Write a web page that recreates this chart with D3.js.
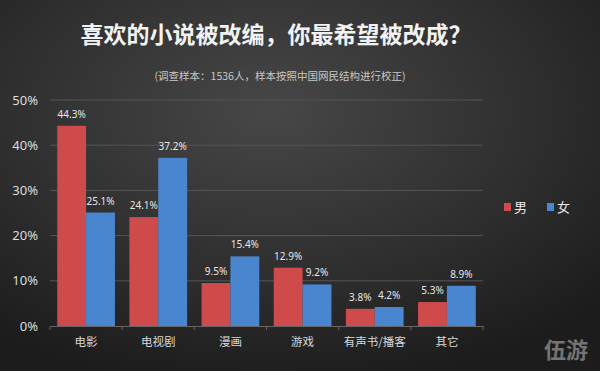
<!DOCTYPE html>
<html><head><meta charset="utf-8">
<script src="https://cdn.jsdelivr.net/npm/d3@7"></script>
<style>
html,body{margin:0;padding:0;background:#222;}
svg{display:block;}
</style></head>
<body>
<svg id="c" width="600" height="371"></svg>
<script>
const categories = ["电影","电视剧","漫画","游戏","有声书/播客","其它"];
const seriesNames = ["男","女"];
const maleValues = [44.3, 24.1, 9.5, 12.9, 3.8, 5.3];
const femaleValues = [25.1, 37.2, 15.4, 9.2, 4.2, 8.9];
const yTicks = [0, 10, 20, 30, 40, 50];
const colors = ["#cf4a4a", "#4a86cf"];
const titleText = "喜欢的小说被改编，你最希望被改成？";
const subtitleText = "(调查样本：1536人，样本按照中国网民结构进行校正)";

const svg = d3.select("#c");
const W = 600, H = 371;
const defs = svg.append("defs");
const grad = defs.append("radialGradient").attr("id","bg")
  .attr("cx","45%").attr("cy","30%").attr("r","75%");
grad.append("stop").attr("offset","0%").attr("stop-color","#474747");
grad.append("stop").attr("offset","60%").attr("stop-color","#2e2e2e");
grad.append("stop").attr("offset","100%").attr("stop-color","#1c1c1c");
svg.append("rect").attr("width",W).attr("height",H).attr("fill","url(#bg)");

svg.append("text").attr("x",276).attr("y",43).attr("text-anchor","middle")
  .attr("font-family","Noto Sans CJK SC").attr("font-weight","bold")
  .attr("font-size",23).attr("fill","#f2f2f2").text(titleText);
svg.append("text").attr("x",280).attr("y",80).attr("text-anchor","middle")
  .attr("font-family","Noto Sans CJK SC")
  .attr("font-size",10.5).attr("fill","#c8c8c8").text(subtitleText);

const x0 = d3.scaleBand().domain(categories).range([50, 483]).paddingInner(0).paddingOuter(0);
const x1 = d3.scaleBand().domain(seriesNames).range([0, x0.bandwidth()]).paddingOuter(0.25).paddingInner(0);
const y = d3.scaleLinear().domain([0, 50]).range([326, 100]);

// gridlines
svg.append("g").selectAll("line").data(yTicks.filter(d=>d>0)).join("line")
  .attr("x1",50).attr("x2",483).attr("y1",d=>y(d)).attr("y2",d=>y(d))
  .attr("stroke","#555").attr("stroke-width",1);

// y axis labels
const yAxis = d3.axisLeft(y).tickValues(yTicks).tickFormat(d=>d+"%").tickSize(0).tickPadding(12);
const yg = svg.append("g").attr("transform","translate(50,0)").call(yAxis);
yg.select(".domain").remove();
yg.selectAll("text").attr("font-family","Noto Sans").attr("font-size",13).attr("fill","#dcdcdc");

// bars
const data = categories.map((c,i)=>({cat:c, vals:[maleValues[i], femaleValues[i]]}));
const groups = svg.append("g").selectAll("g").data(data).join("g")
  .attr("transform",d=>`translate(${x0(d.cat)},0)`);
groups.selectAll("rect").data(d=>d.vals.map((v,j)=>({s:seriesNames[j], v, j}))).join("rect")
  .attr("x",d=>x1(d.s)).attr("width",x1.bandwidth())
  .attr("y",d=>y(d.v)).attr("height",d=>y(0)-y(d.v))
  .attr("fill",d=>colors[d.j]);
groups.selectAll("text.v").data(d=>d.vals.map((v,j)=>({s:seriesNames[j], v, j}))).join("text")
  .attr("class","v")
  .attr("x",d=>x1(d.s)+x1.bandwidth()/2).attr("y",d=>y(d.v)-8)
  .attr("text-anchor","middle").attr("font-family","Noto Sans").attr("font-size",10)
  .attr("fill","#e6e6e6").text(d=>d.v.toFixed(1)+"%");

// x axis
const xAxis = d3.axisBottom(x0).tickSize(0).tickPadding(12);
const xg = svg.append("g").attr("transform","translate(0,326)").call(xAxis);
xg.select(".domain").attr("stroke","#666");
xg.selectAll("text").attr("font-family","Noto Sans CJK SC").attr("font-size",11.5).attr("fill","#d8d8d8");
// boundary ticks
svg.append("g").selectAll("line").data(categories.concat(["end"])).join("line")
  .attr("x1",(d,i)=> i<categories.length ? x0(d) : 483)
  .attr("x2",(d,i)=> i<categories.length ? x0(d) : 483)
  .attr("y1",326).attr("y2",330).attr("stroke","#666");

// legend
const lg = svg.append("g");
seriesNames.forEach((s,i)=>{
  const lx = 504 + i*43;
  lg.append("rect").attr("x",lx).attr("y",203).attr("width",7).attr("height",8).attr("fill",colors[i]);
  lg.append("text").attr("x",lx+10).attr("y",212).attr("font-family","Noto Sans CJK SC")
    .attr("font-size",13).attr("fill","#e8e8e8").text(s);
});

// watermark
svg.append("text").attr("x",588).attr("y",358).attr("text-anchor","end")
  .attr("font-family","Noto Sans CJK SC").attr("font-weight","bold").attr("font-size",22)
  .attr("fill","#8a8a8a").attr("opacity",0.8).text("伍游");
</script>
</body></html>
